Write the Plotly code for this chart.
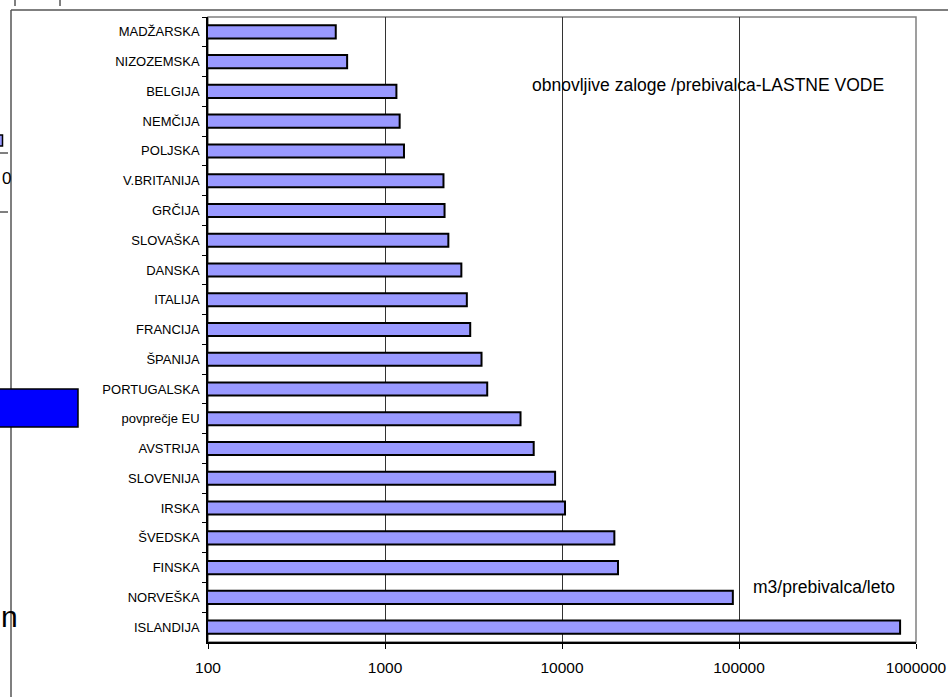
import plotly.graph_objects as go

# Renewable freshwater resources per inhabitant (m3 per inhabitant per year)
countries = [
    "MADŽARSKA", "NIZOZEMSKA", "BELGIJA", "NEMČIJA", "POLJSKA", "V.BRITANIJA",
    "GRČIJA", "SLOVAŠKA", "DANSKA", "ITALIJA", "FRANCIJA", "ŠPANIJA",
    "PORTUGALSKA", "povprečje EU", "AVSTRIJA", "SLOVENIJA", "IRSKA",
    "ŠVEDSKA", "FINSKA", "NORVEŠKA", "ISLANDIJA",
]
water_per_capita = [
    527, 611, 1160, 1210, 1280, 2140,
    2170, 2280, 2700, 2900, 3030, 3510,
    3780, 5830, 6920, 9140, 10400,
    19760, 20720, 92300, 813000,
]
x_tick_values = [100, 1000, 10000, 100000, 1000000]
x_tick_labels = ["100", "1000", "10000", "100000", "1000000"]

W, H = 948, 697
L, R, T, B = 208, 32, 17, 55
PW, PH = W - L - R, H - T - B


def px(x):
    return (x - L) / PW


def py(y):
    return (H - B - y) / PH


FONT = "Liberation Sans, Arial, sans-serif"

fig = go.Figure(
    go.Bar(
        x=water_per_capita,
        y=countries,
        orientation="h",
        marker=dict(color="#9999FF", line=dict(color="#000000", width=2)),
        hoverinfo="x+y",
    )
)

shapes = [
    # plot-area frame (grey top/right edges)
    dict(type="rect", xref="paper", yref="paper", x0=0, x1=1, y0=0, y1=1,
         line=dict(color="#808080", width=1.5), layer="below"),
    # outer chart frame
    dict(type="line", xref="paper", yref="paper", x0=px(11), x1=px(W + 5),
         y0=py(10), y1=py(10), line=dict(color="#555555", width=1.5)),
    dict(type="line", xref="paper", yref="paper", x0=px(11), x1=px(11),
         y0=py(10), y1=py(H + 5), line=dict(color="#555555", width=1.5)),
    # slide pieces showing at the left edge
    dict(type="line", xref="paper", yref="paper", x0=px(15), x1=px(15),
         y0=py(-2), y1=py(6), line=dict(color="#000000", width=1)),
    dict(type="line", xref="paper", yref="paper", x0=px(60), x1=px(60),
         y0=py(-2), y1=py(6), line=dict(color="#000000", width=1)),
    dict(type="rect", xref="paper", yref="paper", x0=px(-5), x1=px(2.5),
         y0=py(146), y1=py(135), fillcolor="#9999FF",
         line=dict(color="#000000", width=1.5)),
    dict(type="line", xref="paper", yref="paper", x0=px(-2), x1=px(8),
         y0=py(153), y1=py(153), line=dict(color="#000000", width=1)),
    dict(type="line", xref="paper", yref="paper", x0=px(-2), x1=px(8),
         y0=py(212), y1=py(212), line=dict(color="#000000", width=1)),
    dict(type="rect", xref="paper", yref="paper", x0=px(-5), x1=px(78),
         y0=py(427), y1=py(389), fillcolor="#0000FF",
         line=dict(color="#000000", width=1.5)),
]

annotations = [
    dict(text="obnovljive zaloge /prebivalca-LASTNE VODE", xref="paper",
         yref="paper", x=px(530), y=py(85), xanchor="left", yanchor="middle",
         showarrow=False, font=dict(family=FONT, size=17.5, color="#000000")),
    dict(text="m3/prebivalca/leto", xref="paper", yref="paper", x=px(751),
         y=py(587), xanchor="left", yanchor="middle", showarrow=False,
         font=dict(family=FONT, size=17.5, color="#000000")),
    dict(text="0", xref="paper", yref="paper", x=px(0), y=py(178),
         xanchor="left", yanchor="middle", showarrow=False,
         font=dict(family=FONT, size=17, color="#000000")),
    dict(text="n", xref="paper", yref="paper", x=px(-1), y=py(616),
         xanchor="left", yanchor="middle", showarrow=False,
         font=dict(family=FONT, size=30, color="#000000")),
]

fig.update_layout(
    width=W,
    height=H,
    margin=dict(l=L, r=R, t=T, b=B, pad=0, autoexpand=False),
    paper_bgcolor="#FFFFFF",
    plot_bgcolor="#FFFFFF",
    showlegend=False,
    bargap=0.56,
    shapes=shapes,
    annotations=annotations,
    font=dict(family=FONT, color="#000000"),
    xaxis=dict(
        type="log",
        range=[2, 6],
        automargin=False,
        tickvals=x_tick_values,
        ticktext=x_tick_labels,
        tickfont=dict(family=FONT, size=15.5, color="#000000"),
        ticklabelstandoff=6,
        showgrid=True,
        gridcolor="#333333",
        gridwidth=1,
        showline=True,
        linecolor="#000000",
        linewidth=1.5,
        ticks="outside",
        ticklen=5,
        tickcolor="#000000",
        zeroline=False,
        fixedrange=True,
    ),
    yaxis=dict(
        type="category",
        categoryorder="array",
        categoryarray=countries,
        range=[len(countries) - 0.5, -0.5],
        automargin=False,
        tickfont=dict(family=FONT, size=13, color="#000000"),
        ticklabelstandoff=4,
        showgrid=False,
        showline=True,
        linecolor="#000000",
        linewidth=1.5,
        ticks="outside",
        tickson="boundaries",
        ticklen=4,
        tickcolor="#000000",
        zeroline=False,
        fixedrange=True,
    ),
)

fig.write_html("out.html")
